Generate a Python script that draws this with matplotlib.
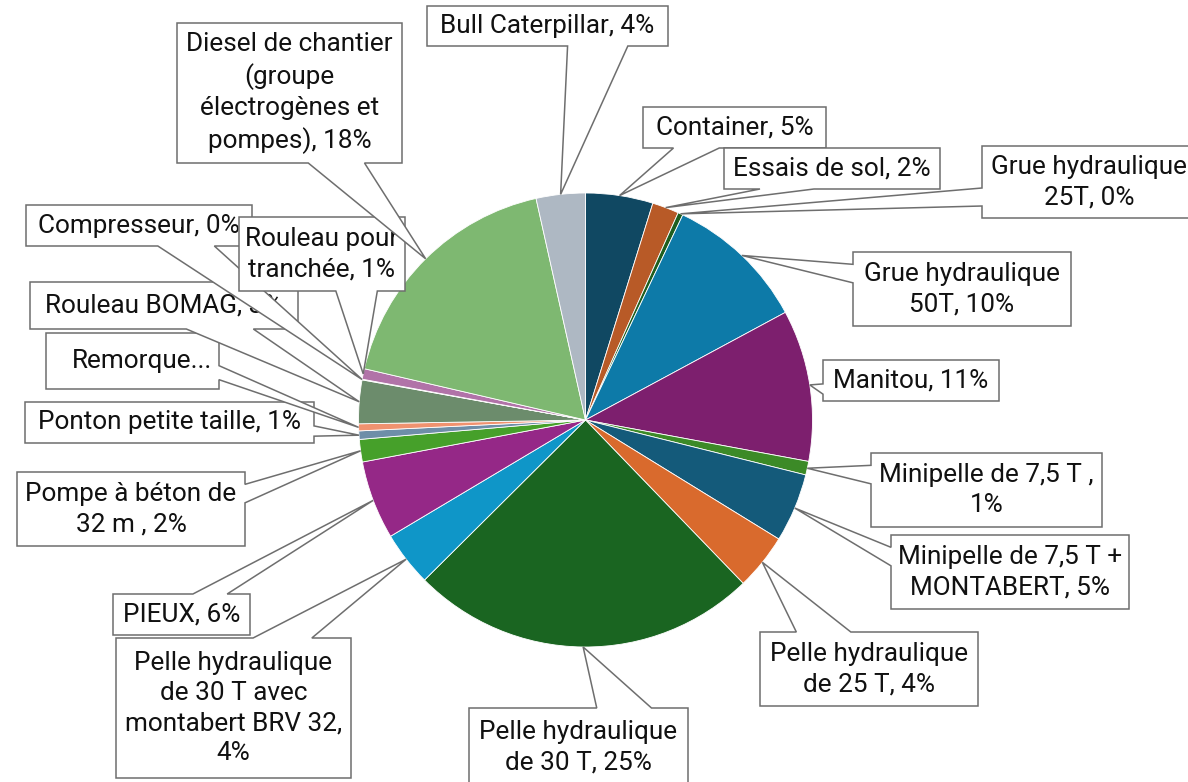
import numpy as np
import matplotlib.pyplot as plt
from matplotlib.patches import Polygon

# Slices in clockwise order starting at 12 o'clock (percent of total)
labels = [
    "Container, 5%",
    "Essais de sol, 2%",
    "Grue hydraulique\n25T, 0%",
    "Grue hydraulique\n50T, 10%",
    "Manitou, 11%",
    "Minipelle de 7,5 T ,\n1%",
    "Minipelle de 7,5 T +\nMONTABERT, 5%",
    "Pelle hydraulique\nde 25 T, 4%",
    "Pelle hydraulique\nde 30 T, 25%",
    "Pelle hydraulique\nde 30 T avec\nmontabert BRV 32,\n4%",
    "PIEUX, 6%",
    "Pompe à béton de\n32 m , 2%",
    "Ponton petite taille, 1%",
    "Remorque...",
    "Rouleau BOMAG, 3%",
    "Compresseur, 0%",
    "Rouleau pour\ntranchée, 1%",
    "Diesel de chantier\n(groupe\nélectrogènes et\npompes), 18%",
    "Bull Caterpillar, 4%",
]
values = [4.8, 1.9, 0.36, 10.1, 10.8, 0.97, 4.9, 4.0, 24.8, 3.9,
          5.6, 1.6, 0.6, 0.5, 3.1, 0.05, 0.75, 17.9, 3.5]
colors = ['#104862', '#B85A27', '#1E5E1E', '#0D7AA8', '#7D1F6E', '#3C8A27',
          '#145A7A', '#D96A2D', '#1A6521', '#0F96C8', '#952887', '#46A02A',
          '#6E8EA8', '#F0926F', '#6C8C6C', '#9A9A9A', '#B173A8', '#7EB871',
          '#AEB8C3']

# label box layout in pixels (left, top, right, bottom)
boxes = [
    (643, 107, 826, 148), (724, 148, 940, 189), (982, 146, 1196, 218),
    (853, 252, 1071, 326), (823, 360, 999, 401), (871, 453, 1102, 527),
    (891, 535, 1129, 609), (760, 632, 978, 706), (469, 708, 688, 787),
    (116, 638, 351, 778), (113, 594, 250, 635), (17, 472, 245, 546),
    (25, 402, 314, 443), (46, 333, 219, 389), (30, 282, 298, 329),
    (26, 205, 252, 246), (239, 217, 405, 291), (177, 23, 402, 163),
    (427, 6, 668, 46),
]

fig = plt.figure(figsize=(11.88, 7.82), dpi=100)
ax = fig.add_axes([0, 0, 1, 1])
wedges, _ = ax.pie(values, colors=colors, startangle=-90, counterclock=True,
                   center=(585.5, 420), radius=227,
                   wedgeprops=dict(edgecolor='white', linewidth=0.6))
ax.set_xlim(0, 1188)
ax.set_ylim(782, 0)
ax.set_aspect('equal')
ax.axis('off')


def callout(box, tip, z):
    # rectangle with a wedge pointer, like Excel's callout data labels
    l, t, r, b = box
    w, h = r - l, b - t
    hc, vc = (l + r) / 2, (t + b) / 2
    dx, dy = tip[0] - hc, tip[1] - vc
    if abs(dx * h) > abs(dy * w):
        y1 = t + h * (7 if dy > 0 else 2) / 12
        y2 = t + h * (10 if dy > 0 else 5) / 12
        if dx < 0:
            pts = [(l, t), (r, t), (r, b), (l, b), (l, y2), tip, (l, y1)]
        else:
            pts = [(l, t), (r, t), (r, y1), tip, (r, y2), (r, b), (l, b)]
    else:
        x1 = l + w * (7 if dx > 0 else 2) / 12
        x2 = l + w * (10 if dx > 0 else 5) / 12
        if dy < 0:
            pts = [(l, t), (x1, t), tip, (x2, t), (r, t), (r, b), (l, b)]
        else:
            pts = [(l, t), (r, t), (r, b), (x2, b), tip, (x1, b), (l, b)]
    ax.add_patch(Polygon(pts, closed=True, facecolor='white',
                         edgecolor='#6e6e6e', linewidth=1.1, zorder=z,
                         clip_on=False))


for i, (wd, lab, box) in enumerate(zip(wedges, labels, boxes)):
    mid = np.deg2rad((wd.theta1 + wd.theta2) / 2)
    cx, cy = wd.center
    tip = (cx + wd.r * np.cos(mid), cy + wd.r * np.sin(mid))
    z = 10 + 2 * i
    callout(box, tip, z)
    tx = (box[0] + box[2]) / 2
    if lab == "Remorque...":
        tx += 10
    ax.text(tx, (box[1] + box[3]) / 2, lab,
            ha='center', va='center', multialignment='center',
            fontsize=18.8, family='Roboto', color='#111111',
            linespacing=1.33, zorder=z + 1)

plt.savefig('out.png', dpi=100)
